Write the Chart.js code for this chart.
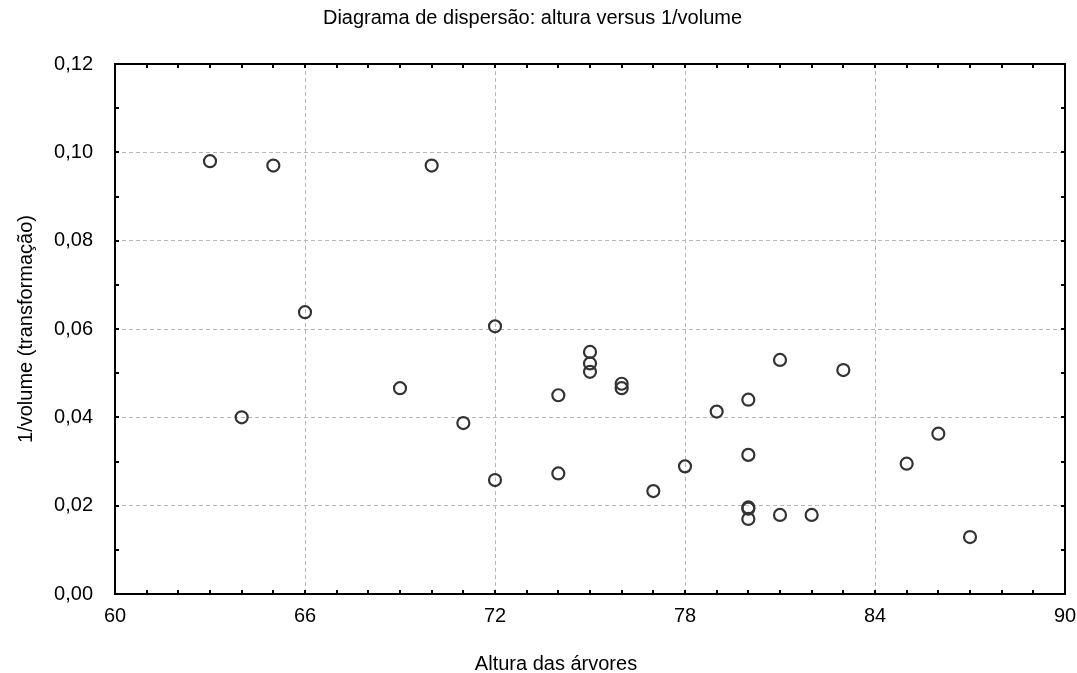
<!DOCTYPE html>
<html>
<head>
<meta charset="utf-8">
<script src="https://cdn.jsdelivr.net/npm/chart.js@4.4.1/dist/chart.umd.min.js"></script>
<style>
  html, body { margin: 0; padding: 0; background: #fff; }
  #wrap { width: 1077px; height: 673px; position: relative; }
</style>
</head>
<body>
<div id="wrap"><canvas id="c" width="1077" height="673"></canvas></div>
<script>
const chartTitle = 'Diagrama de dispersão: altura versus 1/volume';
const xTitle = 'Altura das árvores';
const yTitle = '1/volume (transformação)';

const heights = [63, 64, 65, 66, 69, 70, 71, 72, 72, 74, 74, 75, 75, 75, 76, 76,
                 77, 78, 79, 80, 80, 80, 80, 80, 81, 81, 82, 83, 85, 86, 87];
const invVolume = [0.0980, 0.0400, 0.0970, 0.0638, 0.0466, 0.0970, 0.0387, 0.0606, 0.0258,
                   0.0450, 0.0273, 0.0548, 0.0522, 0.0503, 0.0476, 0.0466, 0.0233, 0.0289,
                   0.0413, 0.0440, 0.0315, 0.0196, 0.0193, 0.0170, 0.0530, 0.0179, 0.0179,
                   0.0507, 0.0295, 0.0363, 0.0129];

const xMin = 60, xMax = 90, xStep = 6, xMinorStep = 1;
const yMin = 0, yMax = 0.12, yStep = 0.02, yMinorStep = 0.01;

const FONT = "'Liberation Sans', Arial, Helvetica, sans-serif";

const points = heights.map((h, i) => ({ x: h, y: invVolume[i] }));

const framePlugin = {
  id: 'framePlugin',
  afterDatasetsDraw(chart) {
    const ctx = chart.ctx;
    const xs = chart.scales.x, ys = chart.scales.y;
    const a = chart.chartArea;
    ctx.save();
    ctx.strokeStyle = '#000';
    ctx.lineWidth = 2;
    ctx.strokeRect(a.left, a.top, a.right - a.left, a.bottom - a.top);
    const tl = 4;
    ctx.beginPath();
    for (let v = xMin; v <= xMax + 1e-9; v += xMinorStep) {
      const px = Math.round(xs.getPixelForValue(v));
      ctx.moveTo(px, a.bottom); ctx.lineTo(px, a.bottom - tl);
      ctx.moveTo(px, a.top); ctx.lineTo(px, a.top + tl);
    }
    for (let k = 0; k <= Math.round((yMax - yMin) / yMinorStep); k++) {
      const v = yMin + k * yMinorStep;
      const py = Math.round(ys.getPixelForValue(v));
      ctx.moveTo(a.left, py); ctx.lineTo(a.left + tl, py);
      ctx.moveTo(a.right, py); ctx.lineTo(a.right - tl, py);
    }
    ctx.stroke();
    ctx.fillStyle = '#000';
    ctx.font = '20px ' + FONT;
    ctx.textAlign = 'center';
    ctx.textBaseline = 'alphabetic';
    ctx.fillText(xTitle, 556, 670);
    ctx.restore();
  }
};

new Chart(document.getElementById('c'), {
  type: 'scatter',
  data: {
    datasets: [{
      data: points,
      pointRadius: 6,
      pointHoverRadius: 6,
      pointBorderWidth: 2.2,
      borderColor: '#333',
      backgroundColor: 'rgba(0,0,0,0)',
      pointStyle: 'circle'
    }]
  },
  options: {
    responsive: false,
    animation: false,
    events: [],
    layout: { padding: { left: 0, right: 12, top: 0, bottom: 0 } },
    plugins: {
      legend: { display: false },
      tooltip: { enabled: false },
      title: {
        display: true,
        text: chartTitle,
        color: '#000',
        font: { family: FONT, size: 20, weight: 'normal' },
        padding: { top: 6, bottom: 34 }
      }
    },
    scales: {
      x: {
        type: 'linear',
        min: xMin, max: xMax,
        afterFit(scale) { scale.height = 79; scale.paddingRight = 0; scale.paddingLeft = 0; },
        ticks: {
          stepSize: xStep,
          padding: 10,
          color: '#000',
          font: { family: FONT, size: 20 },
          maxRotation: 0
        },
        grid: { color: '#b8b8b8', lineWidth: 1, drawTicks: false },
        border: { display: false, dash: [4, 3] }
      },
      y: {
        type: 'linear',
        min: yMin, max: yMax,
        afterFit(scale) { scale.width = 115; },
        ticks: {
          stepSize: yStep,
          padding: 22,
          color: '#000',
          font: { family: FONT, size: 20 },
          callback: (v) => Number(v).toFixed(2).replace('.', ',')
        },
        grid: { color: '#b8b8b8', lineWidth: 1, drawTicks: false },
        border: { display: false, dash: [4, 3] },
        title: {
          display: true,
          text: yTitle,
          color: '#000',
          font: { family: FONT, size: 20 },
          padding: { top: 14, bottom: 0 }
        }
      }
    }
  },
  plugins: [framePlugin]
});
</script>
</body>
</html>
